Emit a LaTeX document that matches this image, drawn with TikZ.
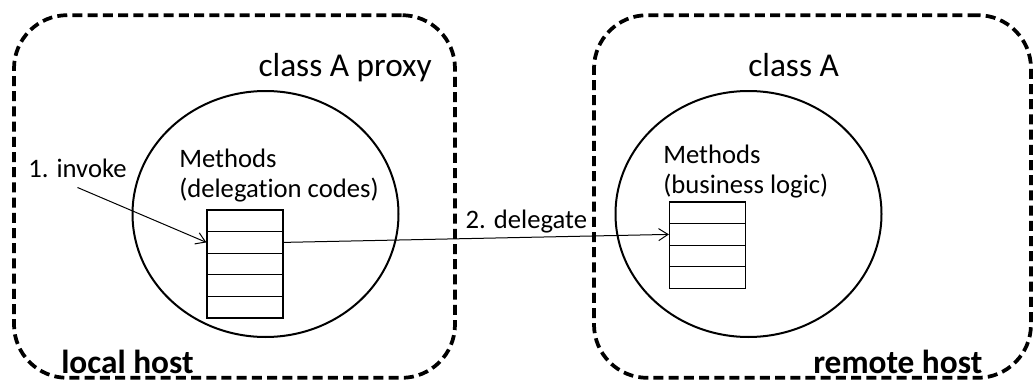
\documentclass[tikz,border=0pt]{standalone}
\usepackage{fontspec}
\setmainfont{Carlito}[Ligatures=NoCommon]
\usetikzlibrary{shapes.geometric,arrows.meta,positioning,calc}

\begin{document}
\begin{tikzpicture}[x=0.75pt,y=-0.75pt,
    host/.style={draw, dash pattern=on 7.5pt off 3.9pt, line width=2.8pt, rounded corners=40pt, minimum width=#1, minimum height=272pt, inner sep=0pt},
    classbody/.style={draw, ellipse, line width=1.5pt, minimum width=199.5pt, minimum height=184.5pt, inner sep=0pt},
    slot/.style={draw, line width=0.9pt, minimum width=57pt, minimum height=16.2pt, inner sep=0pt},
    title/.style={font=\fontsize{25}{30}\selectfont, inner sep=0pt},
    hostname/.style={font=\bfseries\fontsize{25}{30}\selectfont, inner sep=0pt},
    txt/.style={font=\fontsize{20}{22.5}\selectfont, inner sep=0pt, align=left},
    call/.style={-{Straight Barb[length=7pt,width=9pt]}, line width=0.75pt}]
    \useasboundingbox (0,0) rectangle (1033,382);
    \node[host=330.75pt] (local) at (234.5,196.5) {};
    \node[host=327.75pt] (remote) at (812.5,196.5) {};
    \node[classbody] (proxy) at (265.5,214) {};
    \node[classbody] (real) at (748.5,214) {};
    \foreach \i in {1,...,5}
        \node[slot] (p\i) at (245,{210+21.6*(\i-0.5)}) {};
    \foreach \i in {1,...,4}
        \node[slot] (r\i) at (707.5,{202+21.6*(\i-0.5)}) {};
    \node[title, anchor=base east] (proxyname) at (432,76.7) {class A proxy};
    \node[title, anchor=base west] (realname) at (748,76) {class A};
    \node[hostname, anchor=base west] (localname) at (61,373) {local host};
    \node[hostname, anchor=base west] (remotename) at (813,373) {remote host};
    \node[txt, anchor=base west] (proxymethods) at (179,197) {Methods\\(delegation codes)};
    \node[txt, anchor=base west] (realmethods) at (663,193) {Methods\\(business logic)};
    \node[txt, inner xsep=0pt, inner ysep=7.5pt, anchor=base west] (invoke) at (28,177) {1. invoke};
    \draw[call] (invoke.south) -- (p2.west);
    \draw[call] (p2.east) -- node[pos=0.63, above, font=\fontsize{20}{22.5}\selectfont, inner sep=2.7pt] (delegate) {2. delegate} (r2.west);
\end{tikzpicture}
\end{document}
